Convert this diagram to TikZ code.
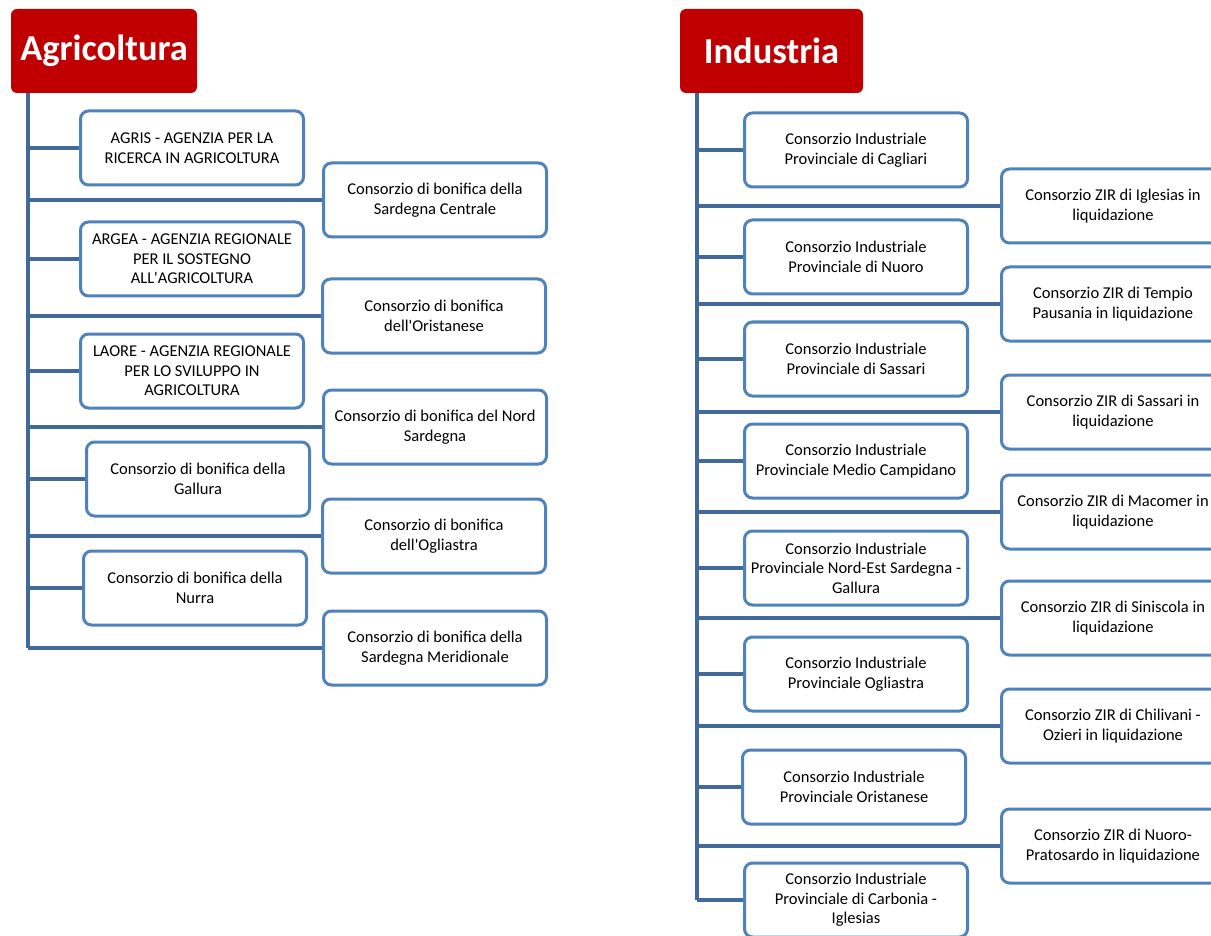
\documentclass[tikz,border=0pt]{standalone}
\usepackage{fontspec}
\newfontfamily\calibri{Carlito}
\definecolor{boxblue}{HTML}{4F81BD}
\definecolor{linkblue}{HTML}{41699A}
\definecolor{headred}{HTML}{C00000}
\begin{document}
\begin{tikzpicture}[x=1pt,y=-1pt,
  head/.style={fill=headred,rounded corners=6pt,text=white,
    font=\calibri\fontsize{36.5}{40}\selectfont\bfseries,
    minimum height=84pt,inner sep=0pt},
  unit/.style={draw=boxblue,line width=3pt,fill=white,rounded corners=8pt,
    minimum width=223pt,minimum height=74pt,inner sep=2pt,align=center,
    font=\calibri\fontsize{16.5}{19.5}\selectfont},
  branch/.style={draw=linkblue,line width=4pt}]
  \useasboundingbox (0,0) rectangle (1211,936);
  % Agricoltura
  \node[head,minimum width=186pt] (agr) at (104,51) {Agricoltura};
  \coordinate (agrtop) at (28,93);
  \node[unit] (agris) at (192,148) {AGRIS - AGENZIA PER LA\\RICERCA IN AGRICOLTURA};
  \node[unit] (argea) at (192,259) {ARGEA - AGENZIA REGIONALE\\PER IL SOSTEGNO\\ALL'AGRICOLTURA};
  \node[unit] (laore) at (192,371) {LAORE - AGENZIA REGIONALE\\PER LO SVILUPPO IN\\AGRICOLTURA};
  \node[unit] (gallura) at (198,479) {Consorzio di bonifica della\\Gallura};
  \node[unit] (nurra) at (195,588) {Consorzio di bonifica della\\Nurra};
  \node[unit] (centrale) at (435,200) {Consorzio di bonifica della\\Sardegna Centrale};
  \node[unit] (oristanese) at (434,316) {Consorzio di bonifica\\dell'Oristanese};
  \node[unit] (nord) at (435,427) {Consorzio di bonifica del Nord\\Sardegna};
  \node[unit] (ogliastra) at (434,536) {Consorzio di bonifica\\dell'Ogliastra};
  \node[unit] (meridionale) at (435,648) {Consorzio di bonifica della\\Sardegna Meridionale};
  \draw[branch] (agrtop) -- (agrtop |- meridionale.west);
  \foreach \n in {agris,argea,laore,gallura,nurra,centrale,oristanese,nord,ogliastra,meridionale}
    \draw[branch] (agrtop |- \n.west) -- (\n.west);
  % Industria
  \node[head,minimum width=183pt] (ind) at (771.5,51) {Industria};
  \coordinate (indtop) at (697,93);
  \node[unit] (cagliari) at (856,150) {Consorzio Industriale\\Provinciale di Cagliari};
  \node[unit] (nuoro) at (856,257) {Consorzio Industriale\\Provinciale di Nuoro};
  \node[unit] (sassari) at (856,359) {Consorzio Industriale\\Provinciale di Sassari};
  \node[unit] (medio) at (856,461) {Consorzio Industriale\\Provinciale Medio Campidano};
  \node[unit] (nordest) at (856,568) {Consorzio Industriale\\Provinciale Nord-Est Sardegna -\\Gallura};
  \node[unit] (ogl) at (856,674) {Consorzio Industriale\\Provinciale Ogliastra};
  \node[unit] (ori) at (854,787) {Consorzio Industriale\\Provinciale Oristanese};
  \node[unit] (carbonia) at (856,900) {Consorzio Industriale\\Provinciale di Carbonia -\\Iglesias};
  \node[unit] (iglesias) at (1113,206) {Consorzio ZIR di Iglesias in\\liquidazione};
  \node[unit] (tempio) at (1113,304) {Consorzio ZIR di Tempio\\Pausania in liquidazione};
  \node[unit] (zsassari) at (1113,412) {Consorzio ZIR di Sassari in\\liquidazione};
  \node[unit] (macomer) at (1113,512) {Consorzio ZIR di Macomer in\\liquidazione};
  \node[unit] (siniscola) at (1113,618) {Consorzio ZIR di Siniscola in\\liquidazione};
  \node[unit] (chilivani) at (1113,726) {Consorzio ZIR di Chilivani -\\Ozieri in liquidazione};
  \node[unit] (pratosardo) at (1113,846) {Consorzio ZIR di Nuoro-\\Pratosardo in liquidazione};
  \draw[branch] (indtop) -- (indtop |- carbonia.west);
  \foreach \n in {cagliari,nuoro,sassari,medio,nordest,ogl,ori,carbonia,
      iglesias,tempio,zsassari,macomer,siniscola,chilivani,pratosardo}
    \draw[branch] (indtop |- \n.west) -- (\n.west);
\end{tikzpicture}
\end{document}
